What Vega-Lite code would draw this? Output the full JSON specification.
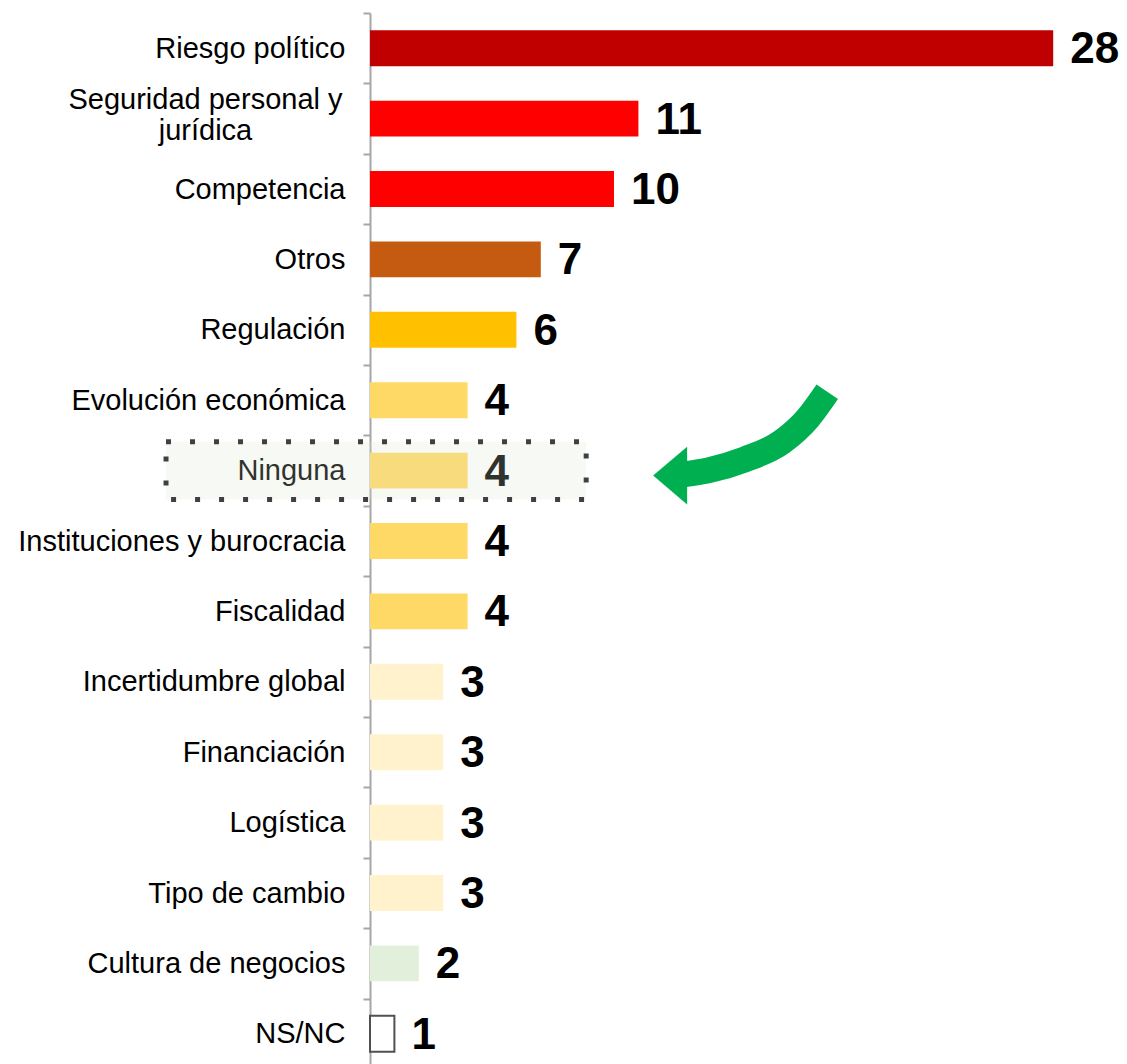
{
  "$schema": "https://vega.github.io/schema/vega-lite/v6.json",
  "width": 732,
  "height": 1056,
  "autosize": {"type": "none"},
  "padding": {"left": 370, "right": 25, "top": 13, "bottom": -5},
  "background": "#ffffff",
  "config": {"view": {"stroke": null}, "font": "Liberation Sans"},
  "datasets": {
    "barras": [
      {"categoria": "Riesgo político", "valor": 28},
      {"categoria": "Seguridad personal y jurídica", "valor": 11},
      {"categoria": "Competencia", "valor": 10},
      {"categoria": "Otros", "valor": 7},
      {"categoria": "Regulación", "valor": 6},
      {"categoria": "Evolución económica", "valor": 4},
      {"categoria": "Ninguna", "valor": 4},
      {"categoria": "Instituciones y burocracia", "valor": 4},
      {"categoria": "Fiscalidad", "valor": 4},
      {"categoria": "Incertidumbre global", "valor": 3},
      {"categoria": "Financiación", "valor": 3},
      {"categoria": "Logística", "valor": 3},
      {"categoria": "Tipo de cambio", "valor": 3},
      {"categoria": "Cultura de negocios", "valor": 2},
      {"categoria": "NS/NC", "valor": 1}
    ],
    "resaltado": [
      {"categoria": "Ninguna", "inicio": -8.36, "fin": 8.86}
    ],
    "flecha": [
      {"x": 12.9, "y": 6.55},
      {"x": 13.82, "y": 6.5},
      {"x": 15.37, "y": 6.34},
      {"x": 16.89, "y": 6.09},
      {"x": 17.96, "y": 5.75},
      {"x": 18.74, "y": 5.38}
    ],
    "punta": [
      {"x": 12.3, "y": 6.57}
    ]
  },
  "layer": [
    {
      "layer": [
        {
          "data": {"name": "barras"},
          "mark": {"type": "bar", "height": {"band": 0.51}, "strokeWidth": 2},
          "encoding": {
            "y": {
              "field": "categoria",
              "type": "nominal",
              "sort": null,
              "scale": {
                "domain": ["Riesgo político", "Seguridad personal y jurídica", "Competencia", "Otros", "Regulación", "Evolución económica", "Ninguna", "Instituciones y burocracia", "Fiscalidad", "Incertidumbre global", "Financiación", "Logística", "Tipo de cambio", "Cultura de negocios", "NS/NC"],
                "paddingInner": 0,
                "paddingOuter": 0
              },
              "axis": {
                "title": null,
                "tickBand": "extent",
                "domainColor": "#a6a6a6",
                "domainWidth": 2,
                "tickColor": "#a6a6a6",
                "tickWidth": 2,
                "tickSize": 7,
                "labelFont": "Liberation Sans",
                "labelFontSize": 29,
                "labelColor": "#000000",
                "labelLineHeight": 31,
                "labelLimit": 400,
                "labelExpr": "datum.value == 'Seguridad personal y jurídica' ? ['Seguridad personal y', 'jurídica'] : datum.label",
                "labelAlign": {"condition": {"test": "datum.value == 'Seguridad personal y jurídica'", "value": "center"}, "value": "right"},
                "labelPadding": {"condition": {"test": "datum.value == 'Seguridad personal y jurídica'", "value": 158}, "value": 18},
                "labelOffset": {"condition": {"test": "datum.value == 'Seguridad personal y jurídica'", "value": -19}, "value": 0}
              }
            },
            "x": {"field": "valor", "type": "quantitative", "scale": {"domain": [0, 30], "nice": false}, "axis": null},
            "color": {
              "field": "categoria",
              "type": "nominal",
              "legend": null,
              "scale": {
                "domain": ["Riesgo político", "Seguridad personal y jurídica", "Competencia", "Otros", "Regulación", "Evolución económica", "Ninguna", "Instituciones y burocracia", "Fiscalidad", "Incertidumbre global", "Financiación", "Logística", "Tipo de cambio", "Cultura de negocios", "NS/NC"],
                "range": ["#c00000", "#ff0000", "#ff0000", "#c55a11", "#ffc000", "#ffd966", "#ffd966", "#ffd966", "#ffd966", "#fff2cc", "#fff2cc", "#fff2cc", "#fff2cc", "#e2efda", "#ffffff"]
              }
            },
            "stroke": {"condition": {"test": "datum.categoria == 'NS/NC'", "value": "#505050"}, "value": null}
          }
        },
        {
          "data": {"name": "barras"},
          "mark": {"type": "text", "align": "left", "baseline": "middle", "dx": 17, "dy": 2, "font": "Liberation Sans", "fontSize": 44, "fontWeight": "bold", "color": "#000000"},
          "encoding": {
            "y": {"field": "categoria", "type": "nominal", "sort": null},
            "x": {"field": "valor", "type": "quantitative"},
            "text": {"field": "valor", "type": "quantitative"}
          }
        },
        {
          "data": {"name": "resaltado"},
          "mark": {"type": "bar", "height": {"band": 0.82}, "fill": "#d9e3cc", "fillOpacity": 0.22, "stroke": "#404040", "strokeWidth": 5, "strokeDash": [5, 19], "strokeCap": "butt"},
          "encoding": {
            "y": {"field": "categoria", "type": "nominal", "sort": null},
            "x": {"field": "inicio", "type": "quantitative"},
            "x2": {"field": "fin"}
          }
        }
      ]
    },
    {
      "layer": [
        {
          "data": {"name": "flecha"},
          "mark": {"type": "line", "stroke": "#00b050", "strokeWidth": 26, "interpolate": "monotone", "strokeCap": "butt"},
          "encoding": {
            "x": {"field": "x", "type": "quantitative"},
            "y": {"field": "y", "type": "quantitative", "scale": {"domain": [0, 15], "reverse": true, "nice": false, "zero": false}, "axis": null}
          }
        },
        {
          "data": {"name": "punta"},
          "mark": {"type": "point", "shape": "M-1,0L1,-1.7L1,1.7Z", "filled": true, "size": 1156, "color": "#00b050", "opacity": 1, "strokeWidth": 0},
          "encoding": {
            "x": {"field": "x", "type": "quantitative"},
            "y": {"field": "y", "type": "quantitative"}
          }
        }
      ]
    }
  ],
  "resolve": {"scale": {"y": "independent"}}
}
